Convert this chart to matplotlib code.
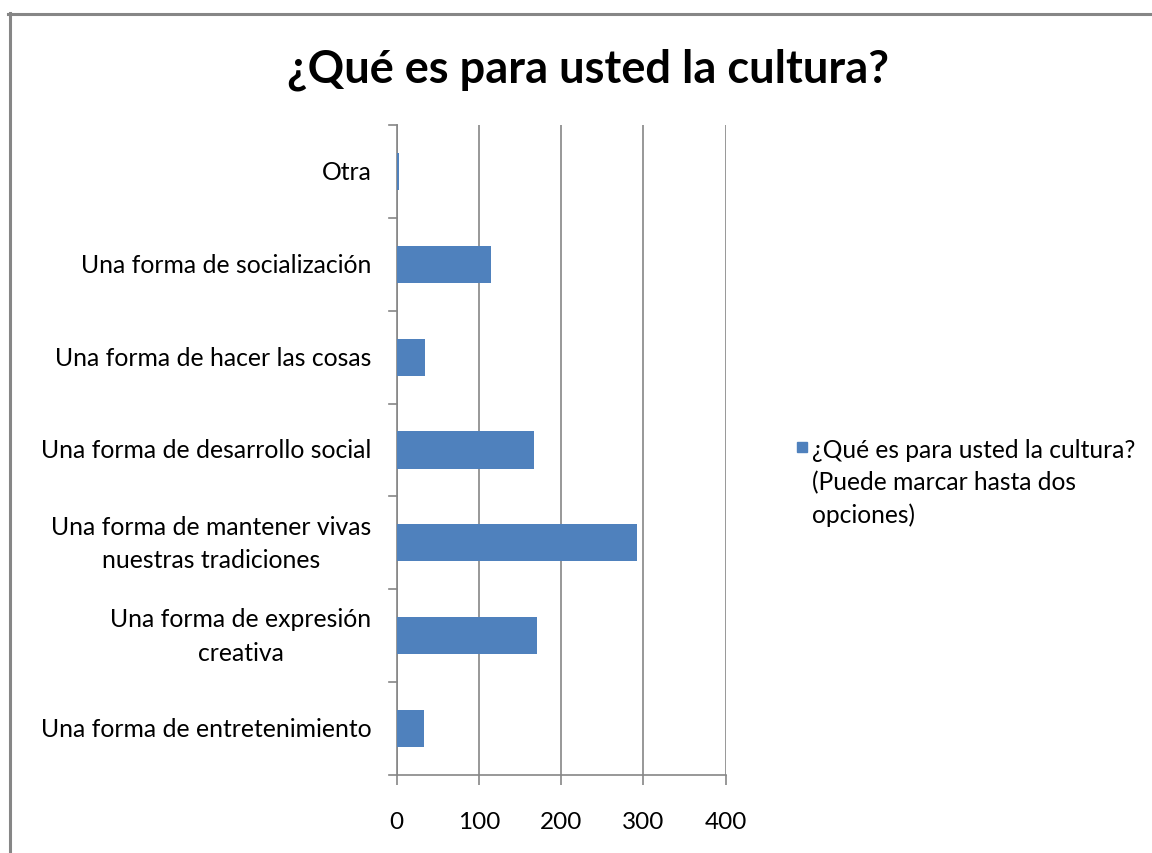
import matplotlib
matplotlib.use("Agg")
import matplotlib.pyplot as plt
from matplotlib.patches import Rectangle
from matplotlib.lines import Line2D

categories = [
    "Una forma de entretenimiento",
    "Una forma de expresión\ncreativa",
    "Una forma de mantener vivas\nnuestras tradiciones",
    "Una forma de desarrollo social",
    "Una forma de hacer las cosas",
    "Una forma de socialización",
    "Otra",
]
values = [34, 171, 292, 167, 35, 115, 3]
xticks = [0, 100, 200, 300, 400]
title = "¿Qué es para usted la cultura?"
series_name = "¿Qué es para usted la cultura?\n(Puede marcar hasta dos\nopciones)"

bar_color = "#4F81BD"
grid_color = "#868686"

plt.rcParams['font.family'] = ['Lato', 'DejaVu Sans']

W, H = 1152, 854
fig = plt.figure(figsize=(W / 100, H / 100), dpi=100)

# chart-area border (top and left visible)
fig.add_artist(Line2D([9.5 / W, 9.5 / W], [0, 1 - 14 / H], transform=fig.transFigure,
                      color=grid_color, lw=2.2))
fig.add_artist(Line2D([8 / W, 1], [1 - 15 / H, 1 - 15 / H], transform=fig.transFigure,
                      color=grid_color, lw=2.2))

x0, x1 = 396.5, 725.5
y0, y1 = 776, 126
ax = fig.add_axes([x0 / W, 1 - y0 / H, (x1 - x0) / W, (y0 - y1) / H])

pos = list(range(len(categories)))
ax.barh(pos, values, height=0.4, color=bar_color, zorder=3)
ax.set_ylim(-0.5, len(categories) - 0.5)
ax.set_xlim(0, 400)

ax.set_xticks(xticks)
ax.set_xticklabels([str(t) for t in xticks], fontsize=17.5)
ax.set_yticks(pos)
ax.set_yticklabels(categories, fontsize=17.8, ha='right', va='center',
                   multialignment='center', linespacing=1.55)
ax.tick_params(axis='y', length=0, pad=18)
ax.tick_params(axis='x', length=7, color=grid_color, width=1.2, pad=19)

# category boundary tick marks
for b in [i - 0.5 for i in range(len(categories) + 1)]:
    ax.plot([-8 / (x1 - x0) * 400, 0], [b, b], color=grid_color, lw=1.2,
            clip_on=False, zorder=4)

ax.grid(axis='x', color=grid_color, lw=1.2, zorder=0)
for s in ['top', 'right']:
    ax.spines[s].set_visible(False)
for s in ['left', 'bottom']:
    ax.spines[s].set_color(grid_color)
    ax.spines[s].set_linewidth(1.2)

fig.text(588 / W, 1 - 70 / H, title, ha='center', va='center',
         fontsize=32.5, fontweight='bold')

# legend
fig.add_artist(Rectangle((797 / W, 1 - 453 / H), 10 / W, 10 / H,
                         transform=fig.transFigure, color=bar_color))
fig.text(812 / W, 1 - 439 / H, series_name, ha='left', va='top',
         fontsize=17.7, linespacing=1.47)

fig.savefig("out.png", dpi=100)
